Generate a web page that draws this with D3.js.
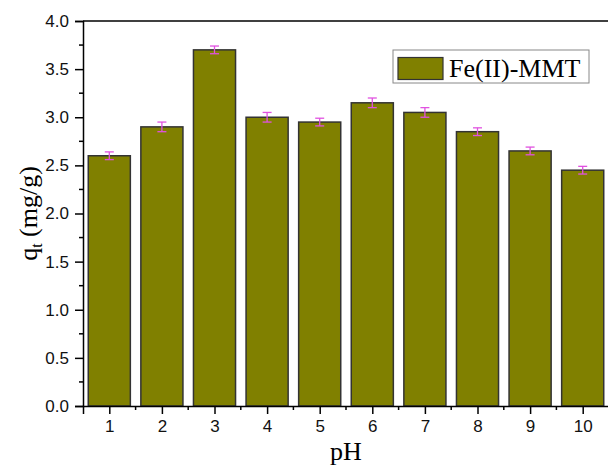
<!DOCTYPE html>
<html>
<head>
<meta charset="utf-8">
<script src="https://cdn.jsdelivr.net/npm/d3@7"></script>
<style>
  body { margin: 0; background: #fff; }
  svg { display: block; }
</style>
</head>
<body>
<div id="chart"></div>
<script>
// data
const phLevels = [1, 2, 3, 4, 5, 6, 7, 8, 9, 10];
const qtValues = [2.60, 2.90, 3.70, 3.00, 2.95, 3.15, 3.05, 2.85, 2.65, 2.45];
const qtErrors = [0.04, 0.05, 0.04, 0.05, 0.04, 0.05, 0.05, 0.04, 0.04, 0.04];
const yTicks = [0, 0.5, 1.0, 1.5, 2.0, 2.5, 3.0, 3.5, 4.0];
const seriesName = "Fe(II)-MMT";

const SANS = "'Liberation Sans', Arial, sans-serif";
const SERIF = "'Liberation Serif', 'Times New Roman', serif";

const W = 608, H = 468;
const margin = { top: 21, left: 83, bottom: 62 };
const plotRight = 609;

const svg = d3.select("#chart").append("svg")
  .attr("width", W).attr("height", H);

const x = d3.scaleLinear().domain([0.5, 10.5]).range([margin.left, plotRight]);
const y = d3.scaleLinear().domain([0, 4]).range([H - margin.bottom, margin.top]);
const step = x(2) - x(1);
const barW = step * 0.8;

// bars
svg.append("g").selectAll("rect")
  .data(phLevels)
  .join("rect")
  .attr("x", (d) => x(d) - barW / 2)
  .attr("y", (d, i) => y(qtValues[i]))
  .attr("width", barW)
  .attr("height", (d, i) => y(0) - y(qtValues[i]))
  .attr("fill", "#808000")
  .attr("stroke", "#333")
  .attr("stroke-width", 1.5);

// error bars
const eb = svg.append("g").attr("stroke", "#e052e0").attr("stroke-width", 1.3);
phLevels.forEach((d, i) => {
  const cx = x(d), hi = y(qtValues[i] + qtErrors[i]), lo = y(qtValues[i] - qtErrors[i]);
  eb.append("line").attr("x1", cx).attr("x2", cx).attr("y1", hi).attr("y2", lo);
  eb.append("line").attr("x1", cx - 4.5).attr("x2", cx + 4.5).attr("y1", hi).attr("y2", hi);
  eb.append("line").attr("x1", cx - 4.5).attr("x2", cx + 4.5).attr("y1", lo).attr("y2", lo);
});

// frame top
svg.append("line")
  .attr("x1", margin.left).attr("x2", plotRight)
  .attr("y1", y(4)).attr("y2", y(4))
  .attr("stroke", "#000").attr("stroke-width", 1.5);

// y axis
const yAxis = svg.append("g")
  .attr("transform", `translate(${margin.left},0)`)
  .call(d3.axisLeft(y).tickValues(yTicks).tickFormat(d3.format(".1f")).tickSizeOuter(0).tickSize(8).tickPadding(6));
yAxis.select(".domain").attr("stroke-width", 1.5);
yAxis.selectAll(".tick line").attr("stroke-width", 1.5);
yAxis.selectAll("text")
  .style("font-family", SANS).style("font-size", "17px").attr("fill", "#111");
const yMinor = d3.range(0.25, 4, 0.5);
svg.append("g").selectAll("line").data(yMinor).join("line")
  .attr("x1", margin.left - 4).attr("x2", margin.left)
  .attr("y1", (d) => y(d)).attr("y2", (d) => y(d))
  .attr("stroke", "#000").attr("stroke-width", 1.5);

// x axis
const xAxis = svg.append("g")
  .attr("transform", `translate(0,${y(0)})`)
  .call(d3.axisBottom(x).tickValues(phLevels).tickSizeOuter(0).tickSize(8).tickPadding(6));
xAxis.select(".domain").attr("stroke-width", 1.5);
xAxis.selectAll(".tick line").attr("stroke-width", 1.5);
xAxis.selectAll("text")
  .style("font-family", SANS).style("font-size", "17px").attr("fill", "#111");
const xMinor = d3.range(1.5, 10.5, 1);
svg.append("g").selectAll("line").data(xMinor).join("line")
  .attr("x1", (d) => x(d)).attr("x2", (d) => x(d))
  .attr("y1", y(0)).attr("y2", y(0) + 4)
  .attr("stroke", "#000").attr("stroke-width", 1.5);

// axis titles
svg.append("text")
  .attr("x", (margin.left + plotRight) / 2)
  .attr("y", 460)
  .attr("text-anchor", "middle")
  .style("font-family", SERIF)
  .style("font-size", "26px")
  .text("pH");

const yt = svg.append("text")
  .attr("transform", `translate(37,${(y(0) + y(4)) / 2}) rotate(-90)`)
  .attr("text-anchor", "middle")
  .style("font-family", SERIF)
  .style("font-size", "26px");
yt.append("tspan").text("q");
yt.append("tspan").style("font-size", "16px").attr("dy", 5).text("t");
yt.append("tspan").attr("dy", -5).text(" (mg/g)");

// legend
const lg = svg.append("g").attr("transform", "translate(393,50)");
lg.append("rect").attr("width", 196).attr("height", 33)
  .attr("fill", "#fff").attr("stroke", "#888").attr("stroke-width", 1);
lg.append("rect").attr("x", 5).attr("y", 7.5).attr("width", 45).attr("height", 22)
  .attr("fill", "#808000").attr("stroke", "#333").attr("stroke-width", 1.2);
lg.append("text").attr("x", 56).attr("y", 27)
  .style("font-family", SERIF)
  .style("font-size", "26px")
  .text(seriesName);
</script>
</body>
</html>
